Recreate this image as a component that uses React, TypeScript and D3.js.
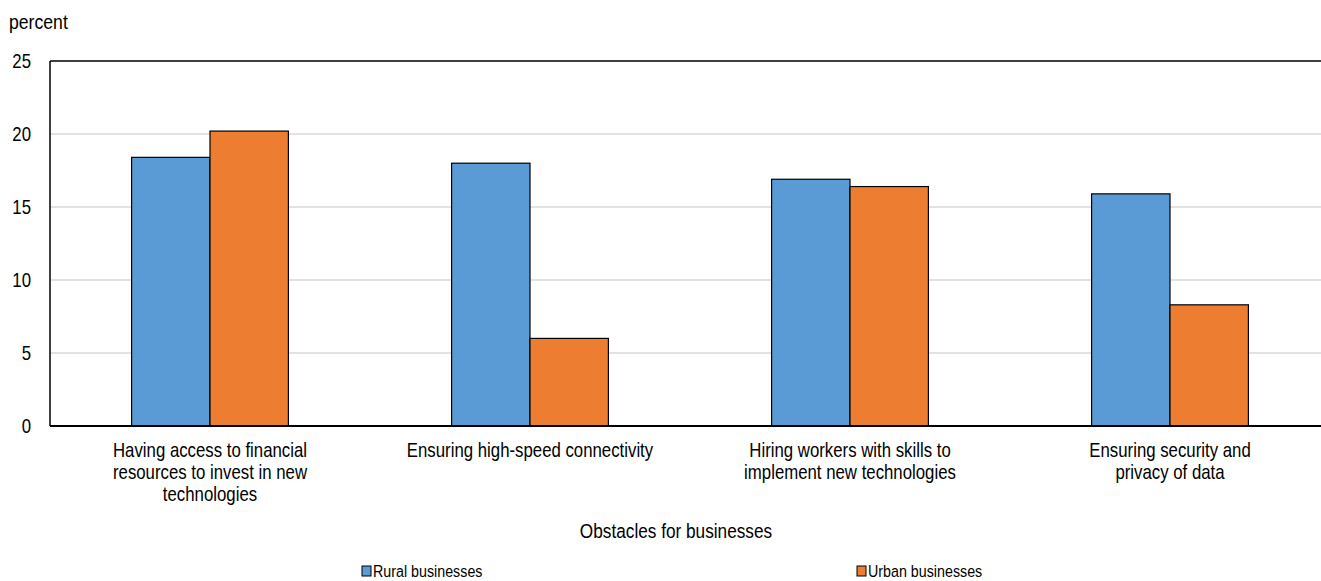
import React from "react";
import * as d3 from "d3";

const categories = [
  "Having access to financial\nresources to invest in new\ntechnologies",
  "Ensuring high-speed connectivity",
  "Hiring workers with skills to\nimplement new technologies",
  "Ensuring security and\nprivacy of data",
];
const seriesNames = ["Rural businesses", "Urban businesses"];
const rural = [18.4, 18.0, 16.9, 15.9];
const urban = [20.2, 6.0, 16.4, 8.3];
const yTicks = [0, 5, 10, 15, 20, 25];
const colors = ["#5B9BD5", "#ED7D31"];

const W = 1321;
const H = 581;
const FONT = "'Liberation Sans', Arial, sans-serif";
const SX = 0.84;

function NText(props: {
  x: number;
  y: number;
  size: number;
  anchor?: "start" | "middle" | "end";
  dy?: string;
  lines: string[];
  lh?: number;
}) {
  const { x, y, size, anchor = "start", dy, lines, lh = 22 } = props;
  return (
    <g transform={`translate(${x},${y}) scale(${SX},1)`}>
      <text x={0} y={0} textAnchor={anchor} fontSize={size} fill="#000" fontFamily={FONT}>
        {lines.map((ln, li) => (
          <tspan key={li} x={0} dy={li === 0 ? dy || 0 : lh}>
            {ln}
          </tspan>
        ))}
      </text>
    </g>
  );
}

export default function App() {
  const left = 50;
  const top = 61;
  const bottom = 426;
  const x = d3
    .scaleBand<number>()
    .domain(categories.map((_, i) => i))
    .range([left, 1330])
    .paddingInner(0.51)
    .paddingOuter(0.255);
  const sub = d3
    .scaleBand<number>()
    .domain([0, 1])
    .range([0, x.bandwidth()]);
  const y = d3.scaleLinear().domain([0, 25]).range([bottom, top]);
  const series = [rural, urban];

  return (
    <div style={{ position: "absolute", left: 0, top: 0 }}>
      <svg width={W} height={H} style={{ display: "block", background: "#fff" }}>
        <NText x={9} y={29} size={21} lines={["percent"]} />
        {yTicks.map((t) =>
          t > 0 && t < 25 ? (
            <line key={"g" + t} x1={left} x2={W} y1={y(t)} y2={y(t)} stroke="#d9d9d9" strokeWidth={1.5} />
          ) : null
        )}
        {yTicks.map((t) => (
          <NText key={"t" + t} x={31} y={y(t)} dy="0.36em" anchor="end" size={20} lines={[String(t)]} />
        ))}
        {series.map((vals, si) =>
          vals.map((v, ci) => (
            <rect
              key={si + "-" + ci}
              x={(x(ci) as number) + (sub(si) as number)}
              y={y(v)}
              width={sub.bandwidth()}
              height={y(0) - y(v)}
              fill={colors[si]}
              stroke="#000"
              strokeWidth={1.2}
            />
          ))
        )}
        <line x1={left} x2={W} y1={top} y2={top} stroke="#404040" strokeWidth={2} />
        <line x1={left} x2={left} y1={top} y2={bottom} stroke="#000" strokeWidth={1.5} />
        <line x1={left} x2={W} y1={bottom} y2={bottom} stroke="#000" strokeWidth={2} />
        {categories.map((c, ci) => (
          <NText
            key={"c" + ci}
            x={(x(ci) as number) + x.bandwidth() / 2}
            y={457}
            anchor="middle"
            size={20}
            lines={c.split("\n")}
            lh={22}
          />
        ))}
        <NText x={676} y={538} anchor="middle" size={20.5} lines={["Obstacles for businesses"]} />
        {seriesNames.map((n, i) => {
          const lx = i === 0 ? 362 : 857;
          return (
            <g key={"l" + i}>
              <rect x={lx} y={566} width={9} height={10} fill={colors[i]} stroke="#000" strokeWidth={1} />
              <NText x={lx + 11} y={577} size={17} lines={[n]} />
            </g>
          );
        })}
      </svg>
    </div>
  );
}
